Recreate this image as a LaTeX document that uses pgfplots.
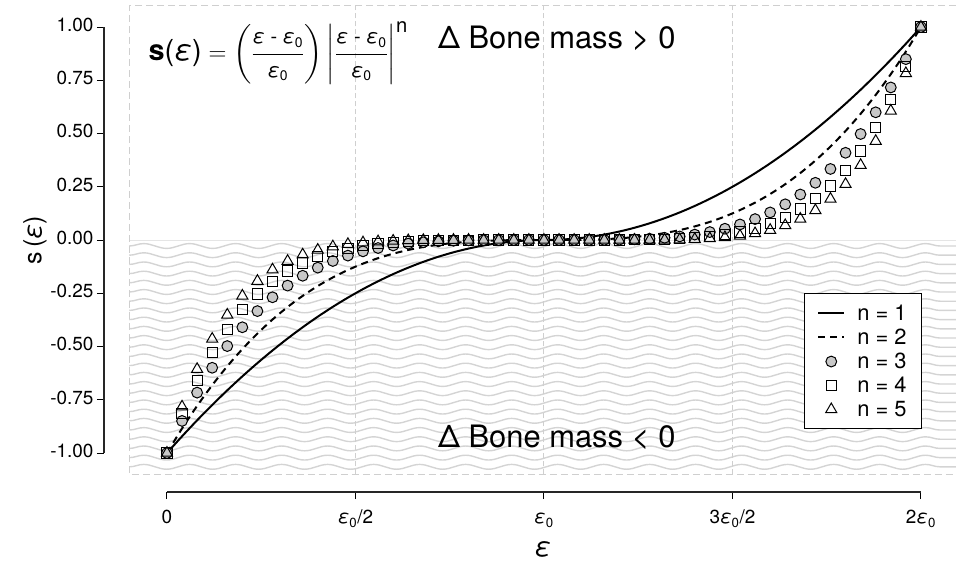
\documentclass[border=0pt]{standalone}
\usepackage{fontspec}
\setmainfont{TeX Gyre Heros}
\usepackage{amsmath}
\usepackage{pgfplots}
\usepackage{pgfplotstable}
\pgfplotsset{compat=1.18}
\usetikzlibrary{decorations.pathmorphing}

\definecolor{markfill}{HTML}{C8C8C8}
\definecolor{panelgray}{HTML}{CFCFCF}
\definecolor{wavegray}{HTML}{D4D4D4}

% s(eps) for n = 1..5, eps in units of eps0
\pgfplotstableread{
x s1 s2 s3 s4 s5
0.00 -1 -1 -1 -1 -1
0.04 -0.9216 -0.884736 -0.849347 -0.815373 -0.782758
0.08 -0.8464 -0.778688 -0.716393 -0.659082 -0.606355
0.12 -0.7744 -0.681472 -0.599695 -0.527732 -0.464404
0.16 -0.7056 -0.592704 -0.497871 -0.418212 -0.351298
0.20 -0.64 -0.512 -0.4096 -0.32768 -0.262144
0.24 -0.5776 -0.438976 -0.333622 -0.253553 -0.192700
0.28 -0.5184 -0.373248 -0.268739 -0.193492 -0.139314
0.32 -0.4624 -0.314432 -0.213814 -0.145393 -0.098867
0.36 -0.4096 -0.262144 -0.167772 -0.107374 -0.068719
0.40 -0.36 -0.216 -0.1296 -0.07776 -0.046656
0.44 -0.3136 -0.175616 -0.098345 -0.055073 -0.030841
0.48 -0.2704 -0.140608 -0.073116 -0.038020 -0.019771
0.52 -0.2304 -0.110592 -0.053084 -0.025480 -0.012231
0.56 -0.1936 -0.085184 -0.037481 -0.016492 -0.007256
0.60 -0.16 -0.064 -0.0256 -0.01024 -0.004096
0.64 -0.1296 -0.046656 -0.016796 -0.006047 -0.002177
0.68 -0.1024 -0.032768 -0.010486 -0.003355 -0.001074
0.72 -0.0784 -0.021952 -0.006147 -0.001721 -0.000482
0.76 -0.0576 -0.013824 -0.003318 -0.000796 -0.000191
0.80 -0.04 -0.008 -0.0016 -0.00032 -0.000064
0.84 -0.0256 -0.004096 -0.000655 -0.000105 -0.000017
0.88 -0.0144 -0.001728 -0.000207 -0.000025 -0.000003
0.92 -0.0064 -0.000512 -0.000041 -0.000003 0
0.96 -0.0016 -0.000064 -0.000003 0 0
1.00 0 0 0 0 0
1.04 0.0016 0.000064 0.000003 0 0
1.08 0.0064 0.000512 0.000041 0.000003 0
1.12 0.0144 0.001728 0.000207 0.000025 0.000003
1.16 0.0256 0.004096 0.000655 0.000105 0.000017
1.20 0.04 0.008 0.0016 0.00032 0.000064
1.24 0.0576 0.013824 0.003318 0.000796 0.000191
1.28 0.0784 0.021952 0.006147 0.001721 0.000482
1.32 0.1024 0.032768 0.010486 0.003355 0.001074
1.36 0.1296 0.046656 0.016796 0.006047 0.002177
1.40 0.16 0.064 0.0256 0.01024 0.004096
1.44 0.1936 0.085184 0.037481 0.016492 0.007256
1.48 0.2304 0.110592 0.053084 0.025480 0.012231
1.52 0.2704 0.140608 0.073116 0.038020 0.019771
1.56 0.3136 0.175616 0.098345 0.055073 0.030841
1.60 0.36 0.216 0.1296 0.07776 0.046656
1.64 0.4096 0.262144 0.167772 0.107374 0.068719
1.68 0.4624 0.314432 0.213814 0.145393 0.098867
1.72 0.5184 0.373248 0.268739 0.193492 0.139314
1.76 0.5776 0.438976 0.333622 0.253553 0.192700
1.80 0.64 0.512 0.4096 0.32768 0.262144
1.84 0.7056 0.592704 0.497871 0.418212 0.351298
1.88 0.7744 0.681472 0.599695 0.527732 0.464404
1.92 0.8464 0.778688 0.716393 0.659082 0.606355
1.96 0.9216 0.884736 0.849347 0.815373 0.782758
2.00 1 1 1 1 1
}\curves

\newcommand{\eps}{\textit{ε}}
\newcommand{\epsz}{\textit{ε}\textsubscript{0}}
\newcommand{\fr}{\fontsize{20}{24}\selectfont}

\begin{document}
\begin{tikzpicture}
\begin{axis}[
  at={(0,0)}, anchor=south west,
  scale only axis, width=852bp, height=492bp,
  xmin=-0.167, xmax=2.093, ymin=-1.183, ymax=1.127,
  clip=false,
  axis line style={draw=none},
  xtick pos=left, ytick pos=left,
  tick align=outside,
  major tick length=7bp,
  every tick/.style={black, line width=1bp},
  xtick={0,0.5,1,1.5,2},
  xticklabels={0, {\epsz/2}, {\epsz}, {3\epsz/2}, {2\epsz}},
  ytick={-1,-0.75,-0.5,-0.25,0,0.25,0.5,0.75,1},
  yticklabels={-1.00,-0.75,-0.50,-0.25,0.00,0.25,0.50,0.75,1.00},
  tick label style={font=\fontsize{19}{22}\selectfont},
  xticklabel style={font=\fontsize{19}{22}\selectfont, yshift=-6bp},
  typeset ticklabels with strut,
  xlabel={\eps},
  ylabel={s\,(\eps)},
  xlabel style={font=\fontsize{27}{30}\selectfont, at={(axis description cs:0.515,0)}, anchor=center, yshift=-57bp},
  ylabel style={font=\fontsize{25}{28}\selectfont, at={(axis description cs:-0.081,0.512)}, anchor=center},
  legend style={at={(axis cs:2.003,-0.251)}, anchor=north east, draw=black, line width=0.9bp, fill=white,
    font=\fontsize{22}{25}\selectfont, inner xsep=13bp, inner ysep=9bp, row sep=3bp,
    nodes={inner sep=2bp},
    /tikz/every odd column/.append style={column sep=10bp}},
  legend cell align=left,
  legend image code/.code={\draw[mark repeat=2,mark phase=2,#1] plot coordinates {(0bp,0bp) (13bp,0bp) (26bp,0bp)};},
]
% wavy background for s < 0
\pgfplotsinvokeforeach{0,...,24}{
  \draw[wavegray, line width=1.4bp, decorate, decoration={snake, segment length=46bp, amplitude=2.4bp}]
    (axis cs:-0.1,{-0.028-0.0432*#1}) -- (axis cs:2.093,{-0.028-0.0432*#1});
}
\draw[wavegray!60, line width=0.8bp] (axis cs:-0.1,0) -- (axis cs:2.093,0);
% panel frame and vertical grid
\draw[panelgray, line width=1.3bp, dash pattern=on 7bp off 4bp]
  (axis cs:2.093,1.1) -- (axis cs:-0.1,1.1) -- (axis cs:-0.1,-1.1) -- (axis cs:2.093,-1.1);
\draw[panelgray, line width=1bp, dash pattern=on 5bp off 3bp] (axis cs:0.5,-1.1) -- (axis cs:0.5,1.1);
\draw[panelgray, line width=1bp, dash pattern=on 5bp off 3bp] (axis cs:1,-1.1) -- (axis cs:1,1.1);
\draw[panelgray, line width=1bp, dash pattern=on 5bp off 3bp] (axis cs:1.5,-1.1) -- (axis cs:1.5,1.1);
% spines
\draw[black!85, line width=1.1bp] (axis cs:-0.167,-1) -- (axis cs:-0.167,1);
\draw[black!85, line width=1.1bp] (axis cs:0,-1.183) -- (axis cs:2,-1.183);

\addplot[black, line width=2bp, smooth] table[x=x, y=s1] {\curves};
\addlegendentry{n = 1}
\addplot[black, line width=2bp, dash pattern=on 7bp off 5bp, smooth] table[x=x, y=s2] {\curves};
\addlegendentry{n = 2}
\addplot[only marks, mark=*, mark size=5.4bp, mark options={fill=markfill, draw=black, line width=1bp}] table[x=x, y=s3] {\curves};
\addlegendentry{n = 3}
\addplot[only marks, mark=square, mark size=5.1bp, mark options={draw=black, line width=1bp}] table[x=x, y=s4] {\curves};
\addlegendentry{n = 4}
\addplot[only marks, mark=triangle, mark size=6.4bp, mark options={draw=black, line width=1bp}] table[x=x, y=s5] {\curves};
\addlegendentry{n = 5}

\node[anchor=west, font=\fontsize{29}{34}\selectfont] at (axis cs:-0.058,0.878)
  {$\text{\textbf{s}(\eps)} = \left(\dfrac{\text{\fr\eps\ - \epsz}}{\text{\fr\epsz}}\right)\left|\dfrac{\text{\fr\eps\ - \epsz}}{\text{\fr\epsz}}\right|^{\text{n}}$};
\node[font=\fontsize{31}{36}\selectfont] at (axis cs:1.034,0.948) {Δ Bone mass > 0};
\node[font=\fontsize{31}{36}\selectfont] at (axis cs:1.034,-0.925) {Δ Bone mass < 0};
\end{axis}
\pgfresetboundingbox
\path (-104bp,-71bp) rectangle (852bp,492bp);
\end{tikzpicture}
\end{document}
